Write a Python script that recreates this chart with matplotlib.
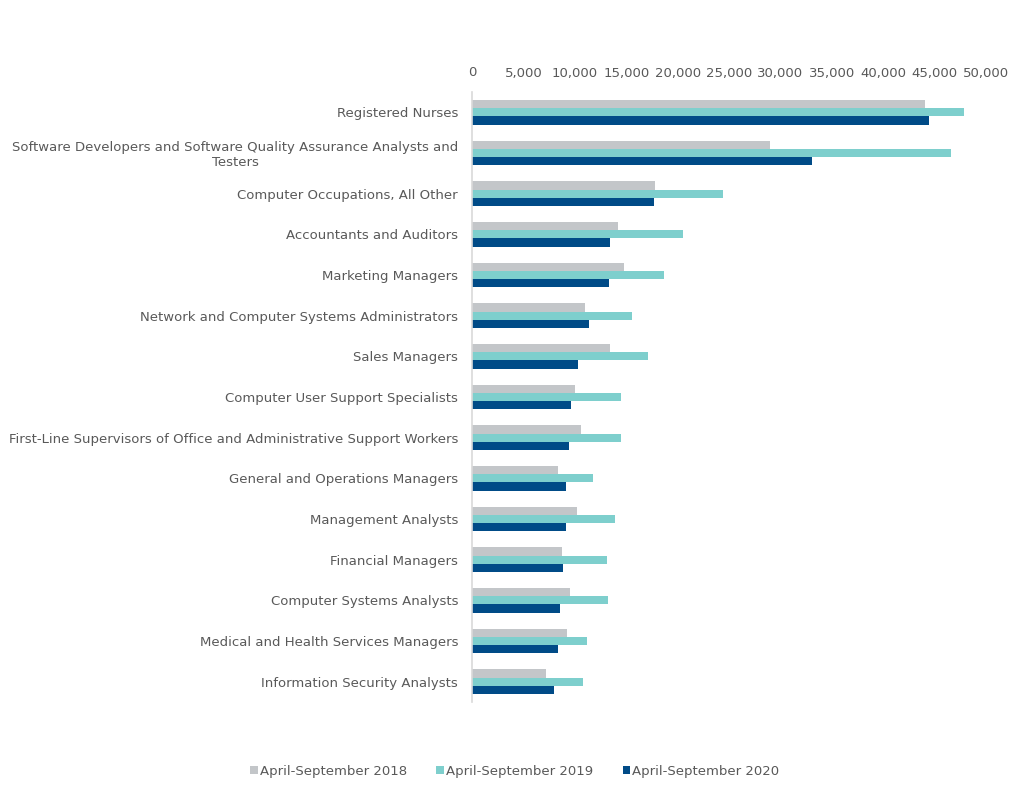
import numpy as np
import matplotlib
matplotlib.use('Agg')
import matplotlib.pyplot as plt
from matplotlib.ticker import FuncFormatter

# ==============================
# Data
# ==============================
occupations = [
    'Registered Nurses',
    'Software Developers and Software Quality Assurance Analysts and\nTesters',
    'Computer Occupations, All Other',
    'Accountants and Auditors',
    'Marketing Managers',
    'Network and Computer Systems Administrators',
    'Sales Managers',
    'Computer User Support Specialists',
    'First-Line Supervisors of Office and Administrative Support Workers',
    'General and Operations Managers',
    'Management Analysts',
    'Financial Managers',
    'Computer Systems Analysts',
    'Medical and Health Services Managers',
    'Information Security Analysts',
]

apr_sep_2018 = [44100, 29000, 17800, 14200, 14800, 11000, 13400, 10000,
                10600, 8400, 10200, 8800, 9500, 9200, 7200]
apr_sep_2019 = [47900, 46600, 24400, 20500, 18700, 15600, 17100, 14500,
                14500, 11800, 13900, 13100, 13200, 11200, 10800]
apr_sep_2020 = [44500, 33100, 17700, 13400, 13300, 11400, 10300, 9600,
                9400, 9100, 9100, 8900, 8600, 8400, 8000]

series_names = ['April-September 2018', 'April-September 2019', 'April-September 2020']
series_values = [apr_sep_2018, apr_sep_2019, apr_sep_2020]
colors = ['#c3c6c9', '#7ecfcd', '#004b87']

text_color = '#595959'
plt.rcParams['font.family'] = ['DejaVu Sans']

# ==============================
# Plot
# ==============================
fig = plt.figure(figsize=(10.24, 7.96), dpi=100)
ax = fig.add_axes([472 / 1024, 1 - 702 / 796, (986 - 472) / 1024, (702 - 92) / 796])

y = np.arange(len(occupations))
bar_h = 0.2
for i, (name, vals) in enumerate(zip(series_names, series_values)):
    ax.barh(y + (i - 1) * bar_h, vals, height=bar_h, color=colors[i],
            label=name, edgecolor='none')

ax.set_ylim(len(occupations) - 0.5, -0.5)
ax.set_xlim(0, 50000)
ax.set_xticks(np.arange(0, 50001, 5000))
ax.xaxis.set_major_formatter(FuncFormatter(lambda v, p: f'{int(v):,}'))
ax.xaxis.tick_top()
ax.set_yticks(y)
ax.set_yticklabels(occupations)
for lbl in ax.get_yticklabels():
    lbl.set_multialignment('center')

ax.tick_params(axis='both', length=0, colors=text_color, labelsize=9.5)
ax.tick_params(axis='y', pad=10)
ax.tick_params(axis='x', pad=9)

for side in ['top', 'right', 'bottom']:
    ax.spines[side].set_visible(False)
ax.spines['left'].set_color('#d9d9d9')
ax.spines['left'].set_linewidth(1.2)

leg = fig.legend(loc='center', bbox_to_anchor=(515 / 1024, 1 - 771 / 796), ncol=3,
                 frameon=False, fontsize=9.5, handlelength=0.55, handleheight=0.55,
                 handletextpad=0.2, columnspacing=2.2)
for t in leg.get_texts():
    t.set_color(text_color)

plt.savefig('out.png', dpi=100)
